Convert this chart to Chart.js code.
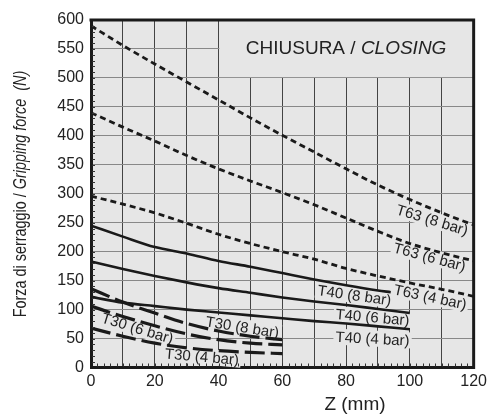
<!DOCTYPE html>
<html>
<head>
<meta charset="utf-8">
<script src="https://cdn.jsdelivr.net/npm/chart.js@4.4.0/dist/chart.umd.min.js"></script>
<style>
  html, body { margin: 0; padding: 0; background: #fff; }
</style>
</head>
<body>
<canvas id="myChart" width="491" height="415"></canvas>
<script>
// Stroke values (Z in mm, force in N)
const zT63 = [0, 10, 20, 30, 40, 50, 60, 70, 80, 90, 100, 110, 120];
const t63Bar8 = [590, 556, 524, 493, 462, 431, 401, 372, 343, 315, 290, 267, 246];
const t63Bar6 = [440, 415, 391, 366, 343, 322, 302, 281, 258, 235, 214, 198, 184];
const t63Bar4 = [296, 282, 267, 249, 230, 214, 200, 187, 171, 158, 146, 135, 123];

const zT40Bar8 = [0, 10, 20, 30, 40, 50, 60, 70, 80, 90, 94];
const t40Bar8 = [245, 226, 208, 197, 184, 174, 163, 152, 142, 133, 130];
const zT40 = [0, 10, 20, 30, 40, 50, 60, 70, 80, 90, 100];
const t40Bar6 = [183, 170, 158, 147, 137, 129, 121, 114, 108, 101, 94];
const t40Bar4 = [122, 112, 106, 100, 95, 90, 85, 80, 76, 71, 66];

const zT30 = [0, 10, 20, 30, 40, 50, 60];
const t30Bar8 = [136, 113, 94, 76, 63, 54, 48];
const t30Bar6 = [106, 88, 72, 58, 48, 42, 39];
const t30Bar4 = [68, 54, 42, 34, 29, 26, 24];

const curveNames = ['T63 (8 bar)', 'T63 (6 bar)', 'T63 (4 bar)',
                    'T40 (8 bar)', 'T40 (6 bar)', 'T40 (4 bar)',
                    'T30 (8 bar)', 'T30 (6 bar)', 'T30 (4 bar)'];

const chartTitle = ['CHIUSURA / ', 'CLOSING'];
const yTitle = ['Forza di serraggio / ', 'Gripping force  (N)'];
const xTitle = 'Z (mm)';

const plotBg = '#e6e6e6';
const ink = '#1a1a1a';

// label placement, in data units, rotation in degrees
const labelSpots = [
  { x: 107, y: 255, a: 17 },
  { x: 106.2, y: 191, a: 15 },
  { x: 106.4, y: 122, a: 12 },
  { x: 82.6, y: 125, a: 8 },
  { x: 88.3, y: 87, a: 5 },
  { x: 88.3, y: 50, a: 3 },
  { x: 47.5, y: 70, a: 9 },
  { x: 14.6, y: 68, a: 17 },
  { x: 34.8, y: 19, a: 5 }
];

function pts(xs, ys) {
  return xs.map((x, i) => ({ x: x, y: ys[i] }));
}

function drawParts(ctx, parts, fonts, x, y) {
  // draws text parts side by side, centred on x
  const widths = parts.map((p, i) => { ctx.font = fonts[i]; return ctx.measureText(p).width; });
  const total = widths.reduce((s, w) => s + w, 0);
  let cx = x - total / 2;
  ctx.textAlign = 'left';
  parts.forEach((p, i) => {
    ctx.font = fonts[i];
    ctx.fillText(p, cx, y);
    cx += widths[i];
  });
}

const decor = {
  id: 'decor',
  beforeDraw(chart) {
    const { ctx, chartArea: a } = chart;
    ctx.save();
    ctx.fillStyle = plotBg;
    ctx.fillRect(a.left, a.top, a.right - a.left, a.bottom - a.top);
    ctx.restore();
  },
  beforeDatasetsDraw(chart) {
    const { ctx, chartArea: a, scales: { x, y } } = chart;
    ctx.save();
    // title box without grid
    const bx = x.getPixelForValue(40) + 0.8;
    const by = y.getPixelForValue(500) - 0.8;
    ctx.fillStyle = plotBg;
    ctx.fillRect(bx, a.top, a.right - bx, by - a.top);

    // curve labels with a plain backing
    ctx.font = '15px "Liberation Sans"';
    ctx.textBaseline = 'middle';
    ctx.textAlign = 'center';
    curveNames.forEach((name, i) => {
      const s = labelSpots[i];
      const w = ctx.measureText(name).width;
      ctx.save();
      ctx.translate(x.getPixelForValue(s.x), y.getPixelForValue(s.y));
      ctx.rotate(s.a * Math.PI / 180);
      ctx.fillStyle = plotBg;
      ctx.fillRect(-w / 2 - 2, -8, w + 4, 16);
      ctx.fillStyle = '#222';
      ctx.fillText(name, 0, 1);
      ctx.restore();
    });
    ctx.restore();
  },
  afterDraw(chart) {
    const { ctx, chartArea: a, scales: { x, y } } = chart;
    ctx.save();
    // small ticks inside the axes
    ctx.strokeStyle = '#333';
    ctx.lineWidth = 1;
    ctx.beginPath();
    for (let v = 10; v < 600; v += 10) {
      const py = Math.round(y.getPixelForValue(v)) + 0.5;
      ctx.moveTo(a.left + 1, py);
      ctx.lineTo(a.left + 4, py);
    }
    for (let v = 2; v < 120; v += 2) {
      const px = Math.round(x.getPixelForValue(v)) + 0.5;
      ctx.moveTo(px, a.bottom - 1);
      ctx.lineTo(px, a.bottom - 4);
    }
    ctx.stroke();

    // top and right frame
    ctx.strokeStyle = ink;
    ctx.lineWidth = 3;
    ctx.beginPath();
    ctx.moveTo(a.left - 1.5, a.top);
    ctx.lineTo(a.right, a.top);
    ctx.lineTo(a.right, a.bottom + 1.5);
    ctx.stroke();

    // chart title
    ctx.fillStyle = '#222';
    ctx.textBaseline = 'alphabetic';
    const tx = (x.getPixelForValue(40) + a.right) / 2;
    drawParts(ctx, chartTitle, ['19px "Liberation Sans"', 'italic 19px "Liberation Sans"'],
              tx, y.getPixelForValue(541));

    // x title
    ctx.font = '19px "Liberation Sans"';
    ctx.textAlign = 'center';
    ctx.fillText(xTitle, 355, 410);

    // y title, rotated and narrowed to mimic the condensed face
    ctx.save();
    ctx.translate(26, 194);
    ctx.rotate(-Math.PI / 2);
    ctx.scale(0.8, 1);
    drawParts(ctx, yTitle, ['18px "Liberation Sans"', 'italic 18px "Liberation Sans"'], 0, 0);
    ctx.restore();
    ctx.restore();
  }
};

const ctx = document.getElementById('myChart').getContext('2d');

function series(data, dash, width) {
  return {
    data: data,
    borderColor: ink,
    borderWidth: width,
    borderDash: dash,
    pointRadius: 0,
    fill: false,
    cubicInterpolationMode: 'monotone'
  };
}

const myChart = new Chart(ctx, {
  type: 'line',
  data: {
    datasets: [
      series(pts(zT63, t63Bar8), [6, 4], 2.8),
      series(pts(zT63, t63Bar6), [6, 4], 2.8),
      series(pts(zT63, t63Bar4), [6, 4], 2.8),
      series(pts(zT40Bar8, t40Bar8), [], 2.6),
      series(pts(zT40, t40Bar6), [], 2.6),
      series(pts(zT40, t40Bar4), [], 2.6),
      series(pts(zT30, t30Bar8), [20, 6], 3.2),
      series(pts(zT30, t30Bar6), [20, 6], 3.2),
      series(pts(zT30, t30Bar4), [20, 6], 3.2)
    ]
  },
  options: {
    responsive: false,
    animation: false,
    layout: { padding: { top: 20, right: 13, left: 0, bottom: 0 } },
    plugins: { legend: { display: false }, tooltip: { enabled: false } },
    scales: {
      x: {
        type: 'linear',
        min: 0,
        max: 120,
        afterFit: (s) => { s.height = 47.5; },
        grid: { color: '#444', lineWidth: 1, drawTicks: false },
        border: { color: ink, width: 3 },
        ticks: {
          stepSize: 10,
          autoSkip: false,
          maxRotation: 0,
          padding: 4,
          color: '#222',
          font: { family: 'Liberation Sans', size: 16 },
          callback: (v) => (v % 20 === 0 ? v : '')
        }
      },
      y: {
        min: 0,
        max: 600,
        afterFit: (s) => { s.width = 91; },
        grid: { color: '#888', lineWidth: 1, drawTicks: false },
        border: { color: ink, width: 3 },
        ticks: {
          stepSize: 50,
          padding: 7,
          color: '#222',
          font: { family: 'Liberation Sans', size: 16 }
        }
      }
    }
  },
  plugins: [decor]
});
</script>
</body>
</html>
